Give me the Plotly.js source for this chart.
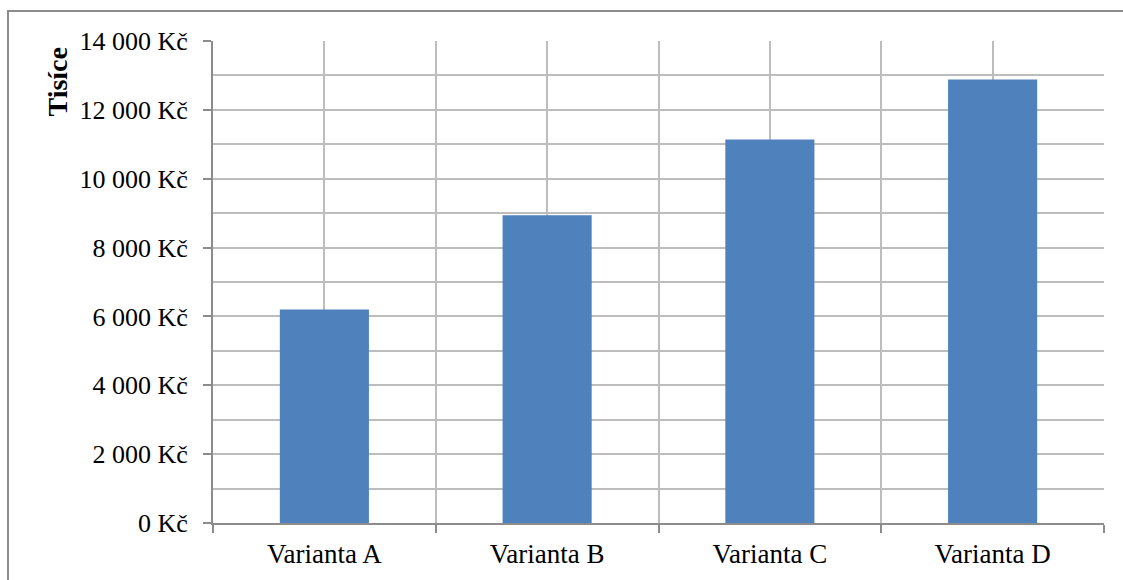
<!DOCTYPE html>
<html>
<head>
<meta charset="utf-8">
<script src="https://cdn.plot.ly/plotly-3.0.1.min.js"></script>
<style>
  html, body { margin: 0; padding: 0; background: #fff; }
  #wrap { position: relative; width: 1123px; height: 580px; overflow: hidden; }
  #chart { position: absolute; left: 0; top: 0; width: 1123px; height: 580px; }
  #frame {
    position: absolute; left: 7px; top: 10px; width: 1200px; height: 700px;
    border-left: 2px solid #8c8c8c; border-top: 2px solid #8c8c8c;
    pointer-events: none; box-sizing: border-box;
  }
</style>
</head>
<body>
<div id="wrap">
  <div id="chart"></div>
  <div id="frame"></div>
</div>
<script>
// Variants and their costs (Kč, in thousands)
const categories = ["Varianta A", "Varianta B", "Varianta C", "Varianta D"];
const values = [6200, 8940, 11140, 12880];
const yTitle = "Tisíce";

const positions = categories.map((c, i) => i);
const family = "Liberation Serif, 'Times New Roman', serif";
const yFont = { family: family, size: 26, color: "#000" };
const xFont = { family: family, size: 27, color: "#000" };
const gridColor = "#bdbdbd";
const axisColor = "#8c8c8c";

const trace = {
  type: "bar",
  x: positions,
  y: values,
  width: 0.4,
  marker: { color: "#4f81bd", line: { width: 0 } },
  hoverinfo: "skip"
};

const layout = {
  width: 1123,
  height: 580,
  margin: { l: 213, r: 19, t: 41, b: 57, pad: 0 },
  paper_bgcolor: "#ffffff",
  plot_bgcolor: "#ffffff",
  separators: ", ",
  showlegend: false,
  font: yFont,
  xaxis: {
    type: "linear",
    range: [-0.5, categories.length - 0.5],
    tickmode: "array",
    tickvals: positions,
    ticktext: categories,
    ticks: "",
    showgrid: true,
    gridcolor: gridColor,
    gridwidth: 2,
    zeroline: false,
    showline: true,
    linecolor: axisColor,
    linewidth: 2,
    tickfont: xFont,
    ticklabelstandoff: 6,
    minor: {
      tick0: -0.5,
      dtick: 1,
      ticks: "outside",
      ticklen: 8,
      tickwidth: 2,
      tickcolor: axisColor,
      showgrid: true,
      gridcolor: gridColor,
      gridwidth: 2
    },
    fixedrange: true
  },
  yaxis: {
    range: [0, 14000],
    dtick: 2000,
    tickformat: ",d",
    ticksuffix: " Kč",
    ticks: "outside",
    ticklen: 8,
    tickwidth: 2,
    tickcolor: axisColor,
    showgrid: true,
    gridcolor: gridColor,
    gridwidth: 2,
    zeroline: false,
    showline: true,
    linecolor: axisColor,
    linewidth: 2,
    tickfont: yFont,
    ticklabelstandoff: 10,
    minor: {
      dtick: 1000,
      showgrid: true,
      gridcolor: gridColor,
      gridwidth: 2
    },
    fixedrange: true
  },
  annotations: [{
    text: "<b>" + yTitle + "</b>",
    xref: "paper", yref: "paper",
    x: -0.175, y: 0.914,
    xanchor: "center", yanchor: "middle",
    textangle: -90,
    showarrow: false,
    font: { family: family, size: 28, color: "#000" }
  }]
};

Plotly.newPlot("chart", [trace], layout, { displayModeBar: false, staticPlot: true });
</script>
</body>
</html>
